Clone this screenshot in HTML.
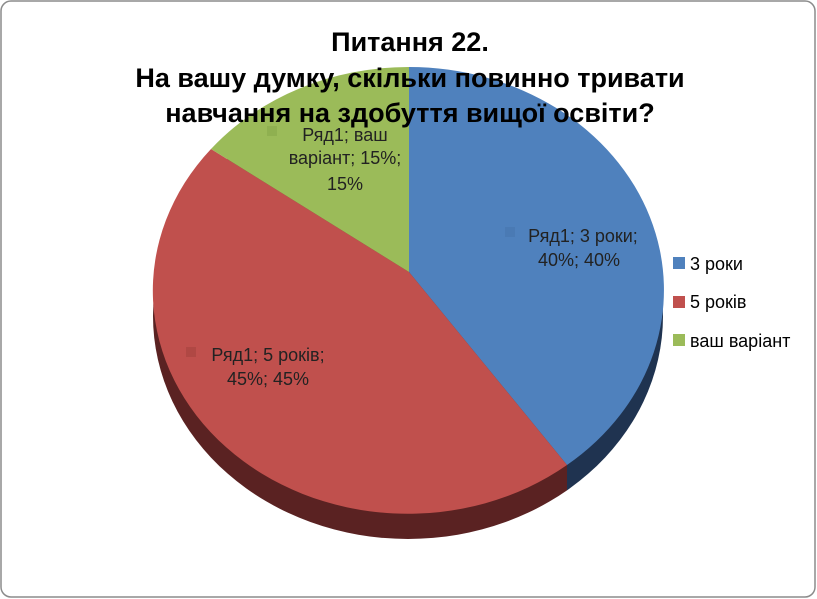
<!DOCTYPE html>
<html><head><meta charset="utf-8"><style>
body{margin:0;background:#fff}
svg{display:block}
text{font-family:"Liberation Sans","DejaVu Sans",sans-serif}
</style></head><body>
<svg width="817" height="599" viewBox="0 0 817 599">
<rect x="1" y="1" width="814" height="596" rx="10" fill="#fff" stroke="#8c8c8c" stroke-width="1.5"/>
<defs>
<clipPath id="cl"><rect x="0" y="0" width="567" height="599"/></clipPath>
<clipPath id="cr"><rect x="567" y="0" width="250" height="599"/></clipPath>
</defs>
<ellipse cx="408" cy="316" rx="255" ry="223" fill="#5a2222" clip-path="url(#cl)"/>
<ellipse cx="408" cy="316" rx="255" ry="223" fill="#1f3350" clip-path="url(#cr)"/>
<path d="M409,272 L409,67 A255,223 0 0,1 567,465 Z" fill="#4f81bd"/>
<path d="M409,272 L567,465 A255,223 0 0,1 211,149 Z" fill="#c0504d"/>
<path d="M409,272 L211,149 A255,223 0 0,1 409,67 Z" fill="#9bbb59"/>
<g font-weight="bold" font-size="27" text-anchor="middle" fill="#000">
<text x="410" y="51">Питання 22.</text>
<text x="410" y="87">На вашу думку, скільки повинно тривати</text>
<text x="410" y="122">навчання на здобуття вищої освіти?</text>
</g>
<g font-size="18" fill="#222" text-anchor="middle">
<rect x="267" y="126" width="10" height="10" fill="#8fb050"/>
<text x="345" y="141">Ряд1; ваш</text>
<text x="345" y="164">варіант; 15%;</text>
<text x="345" y="190">15%</text>
<rect x="505" y="227" width="10" height="10" fill="#4a7ab4"/>
<text x="583" y="242">Ряд1; 3 роки;</text>
<text x="579" y="266">40%; 40%</text>
<rect x="186" y="347" width="10" height="10" fill="#b04844"/>
<text x="268" y="361">Ряд1; 5 років;</text>
<text x="268" y="385">45%; 45%</text>
</g>
<rect x="673" y="257" width="12" height="12" fill="#4f81bd"/>
<rect x="673" y="296" width="12" height="12" fill="#c0504d"/>
<rect x="673" y="334" width="12" height="12" fill="#9bbb59"/>
<g font-size="18" fill="#000">
<text x="690" y="270">3 роки</text>
<text x="690" y="308">5 років</text>
<text x="690" y="347">ваш варіант</text>
</g>
</svg>
</body></html>
